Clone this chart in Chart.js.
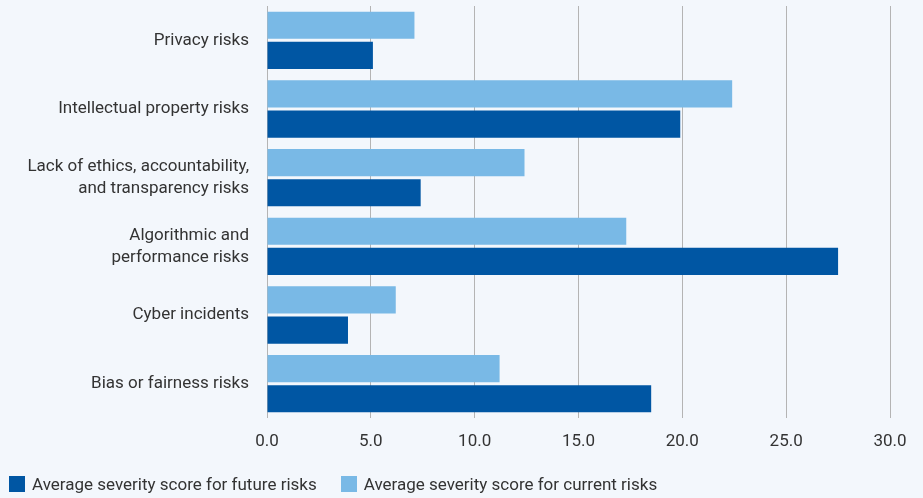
<!DOCTYPE html>
<html>
<head>
<meta charset="utf-8">
<script src="https://cdn.jsdelivr.net/npm/chart.js@4.4.1/dist/chart.umd.min.js"></script>
<style>
    html, body { margin: 0; padding: 0; background: #f3f7fc; }
    #wrap { position: relative; width: 923px; height: 498px; }
    #legend {
        position: absolute; left: 9px; top: 474px;
        display: flex; font: 17px Roboto, sans-serif; color: #333;
    }
    #legend .item { display: flex; align-items: center; margin-right: 24px; }
    #legend .box { width: 16px; height: 16px; margin-right: 7px; }
</style>
</head>
<body>
<div id="wrap">
    <canvas id="riskChart"></canvas>
    <div id="legend"></div>
</div>
<script>
// Risk categories, top to bottom
var categories = [
    'Privacy risks',
    'Intellectual property risks',
    ['Lack of ethics, accountability,', 'and transparency risks'],
    ['Algorithmic and', 'performance risks'],
    'Cyber incidents',
    'Bias or fairness risks'
];
var currentScores = [7.1, 22.4, 12.4, 17.3, 6.2, 11.2];
var futureScores = [5.1, 19.9, 7.4, 27.5, 3.9, 18.5];
var xTicks = [0, 5, 10, 15, 20, 25, 30];

var FONT = "Roboto, sans-serif";

var chart = new Chart(document.getElementById('riskChart').getContext('2d'), {
    type: 'bar',
    data: {
        labels: categories,
        datasets: [
            {
                label: 'Average severity score for current risks',
                data: currentScores,
                backgroundColor: '#79b9e6',
                categoryPercentage: 0.88,
                barPercentage: 0.9
            },
            {
                label: 'Average severity score for future risks',
                data: futureScores,
                backgroundColor: '#0056a3',
                categoryPercentage: 0.88,
                barPercentage: 0.9
            }
        ]
    },
    options: {
        indexAxis: 'y',
        responsive: true,
        maintainAspectRatio: false,
        animation: false,
        layout: { padding: { top: 6, bottom: 45, right: 33 } },
        plugins: {
            legend: { display: false },
            tooltip: { enabled: false }
        },
        scales: {
            x: {
                min: 0,
                max: 30,
                afterBuildTicks: function(scale) {
                    scale.ticks = xTicks.map(function(v) { return { value: v }; });
                },
                afterFit: function(scale) { scale.height = 35; },
                ticks: {
                    callback: function(v) { return Number(v).toFixed(1); },
                    color: '#333',
                    padding: 14,
                    font: { size: 17, family: FONT }
                },
                grid: { color: '#b4b4b4', lineWidth: 1, drawTicks: false },
                border: { display: false }
            },
            y: {
                // fixed label column; drop the label half-height padding top and bottom
                afterFit: function(scale) {
                    scale.width = 267;
                    scale.paddingTop = 0;
                    scale.paddingBottom = 0;
                },
                ticks: {
                    color: '#333',
                    padding: 18,
                    font: { size: 17, family: FONT, lineHeight: 1.3 }
                },
                grid: { display: false, drawTicks: false },
                border: { display: false }
            }
        }
    }
});

// Legend lists the future series first
var legend = document.getElementById('legend');
chart.data.datasets.slice().reverse().forEach(function(ds) {
    var item = document.createElement('div');
    item.className = 'item';
    var box = document.createElement('span');
    box.className = 'box';
    box.style.background = ds.backgroundColor;
    var text = document.createElement('span');
    text.textContent = ds.label;
    item.appendChild(box);
    item.appendChild(text);
    legend.appendChild(item);
});
</script>
</body>
</html>
